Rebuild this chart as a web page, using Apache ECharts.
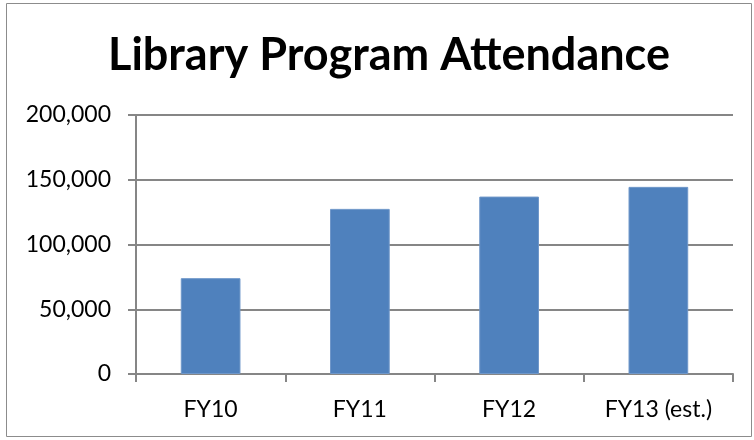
<!DOCTYPE html>
<html>
<head>
<meta charset="utf-8">
<script src="https://cdn.jsdelivr.net/npm/echarts@6/dist/echarts.min.js"></script>
<style>
  html, body { margin: 0; padding: 0; background: #fff; }
  #main { width: 754px; height: 440px; }
</style>
</head>
<body>
<div id="main"></div>
<script>
// chart data
const categories = ['FY10', 'FY11', 'FY12', 'FY13 (est.)'];
const attendance = [74000, 127500, 137000, 144500];
const titleText = 'Library Program Attendance';

const chart = echarts.init(document.getElementById('main'));

const axisGrey = '#868686';
const fontName = 'Lato';

const option = {
  animation: false,
  backgroundColor: '#fff',
  graphic: [{
    type: 'rect',
    shape: { x: 6.5, y: 3.5, width: 745, height: 433 },
    style: { fill: 'none', stroke: '#8c8c8c', lineWidth: 1 },
    silent: true
  }],
  title: {
    text: titleText,
    left: 103,
    top: 28,
    textStyle: { fontFamily: fontName, fontWeight: 'bold', fontSize: 45, color: '#000' }
  },
  grid: { left: 136, right: 21, top: 115, bottom: 66, containLabel: false },
  xAxis: {
    type: 'category',
    data: categories,
    axisLine: { lineStyle: { color: axisGrey, width: 2 } },
    axisTick: { show: true, length: 8, alignWithLabel: false, lineStyle: { color: axisGrey, width: 2 } },
    axisLabel: { fontFamily: fontName, fontSize: 23, color: '#000', margin: 24 }
  },
  yAxis: {
    type: 'value',
    min: 0,
    max: 200000,
    interval: 50000,
    axisLine: { show: true, lineStyle: { color: axisGrey, width: 2 } },
    axisTick: { show: true, inside: false, length: 8, lineStyle: { color: axisGrey, width: 2 } },
    splitLine: { show: true, lineStyle: { color: axisGrey, width: 2 } },
    axisLabel: {
      fontFamily: fontName, fontSize: 23, color: '#000', margin: 25,
      formatter: v => v.toLocaleString('en-US')
    }
  },
  series: [{
    type: 'bar',
    data: attendance,
    barWidth: '40%',
    itemStyle: { color: '#4F81BD', borderColor: '#6f97c9', borderWidth: 1 }
  }]
};

chart.setOption(option);
</script>
</body>
</html>
